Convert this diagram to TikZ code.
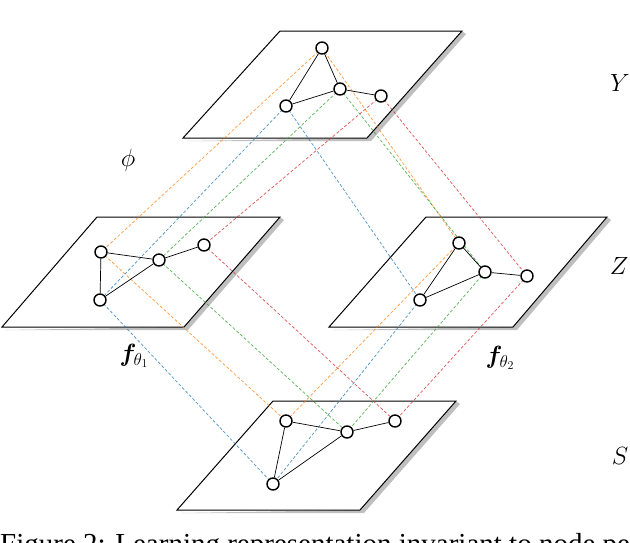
\documentclass[tikz,border=0pt]{standalone}
\usepackage{fontspec}
\usepackage{bm}
\newfontfamily\capfont{Liberation Serif}
\definecolor{corange}{HTML}{FF7F0E}
\definecolor{cblue}{HTML}{1F77B4}
\definecolor{cgreen}{HTML}{2CA02C}
\definecolor{cred}{HTML}{D62728}
\begin{document}
\begin{tikzpicture}[x=1pt,y=-1pt,
  planeshape/.style={fill=white, draw=black, line width=1pt, line join=miter},
  planeshadow/.style={fill=black!25, draw=none},
  gnode/.style={circle, draw=black, line width=1.4pt, fill=white, minimum size=12pt, inner sep=0pt},
  gedge/.style={line width=0.7pt},
  corr/.style={dash pattern=on 3pt off 2pt, line width=0.75pt, opacity=0.75},
  lbl/.style={font=\fontsize{24}{28}\selectfont, inner sep=0pt}]
\useasboundingbox (0,0) rectangle (630,542);
\begin{scope}
\clip (0,0) rectangle (630,542);
% top plane Y
\fill[planeshadow] (187,141) -- (371,141) -- (466,34) -- (462,31) -- (367,138) -- cycle;
\draw[planeshape] (183,138) -- (367,138) -- (462,31) -- (280,31) -- cycle;
% left plane Z
\fill[planeshadow] (5,330) -- (188,330) -- (284,220) -- (280,217) -- (184,327) -- cycle;
\draw[planeshape] (2,327) -- (184,327) -- (280,217) -- (97,217) -- cycle;
% right plane Z
\fill[planeshadow] (333,330) -- (517,330) -- (611,220) -- (607,217) -- (513,327) -- cycle;
\draw[planeshape] (329,327) -- (513,327) -- (607,217) -- (426,217) -- cycle;
% bottom plane S
\fill[planeshadow] (181,513) -- (364,513) -- (460,404) -- (456,401) -- (360,510) -- cycle;
\draw[planeshape] (177,510) -- (360,510) -- (456,401) -- (273,401) -- cycle;

% node positions
\coordinate (yA) at (322,48);
\coordinate (yM) at (340,89);
\coordinate (yR) at (381,96);
\coordinate (yL) at (286,106);
\coordinate (lA) at (101,252);
\coordinate (lM) at (159,260);
\coordinate (lR) at (204,245);
\coordinate (lL) at (100,300);
\coordinate (rA) at (459,243);
\coordinate (rM) at (485,272);
\coordinate (rR) at (527,276);
\coordinate (rL) at (420,300);
\coordinate (sA) at (286,421);
\coordinate (sM) at (347,432);
\coordinate (sR) at (395,421);
\coordinate (sL) at (273,484);

% correspondence lines
\foreach \p/\q in {yA/lA, yA/rA, lA/sA, rA/sA}{\draw[corr, corange] (\p) -- (\q);}
\foreach \p/\q in {yL/lL, yL/rL, lL/sL, rL/sL}{\draw[corr, cblue] (\p) -- (\q);}
\foreach \p/\q in {yM/lM, yM/rM, lM/sM, rM/sM}{\draw[corr, cgreen] (\p) -- (\q);}
\foreach \p/\q in {yR/lR, yR/rR, lR/sR, rR/sR}{\draw[corr, cred] (\p) -- (\q);}

% graph nodes
\foreach \n in {yA,yM,yR,yL,lA,lM,lR,lL,rA,rM,rR,rL,sA,sM,sR,sL}{\node[gnode] (n\n) at (\n) {};}

% graph edges
\foreach \g in {y,l,r,s}{
  \draw[gedge] (n\g A) -- (n\g M);
  \draw[gedge] (n\g A) -- (n\g L);
  \draw[gedge] (n\g L) -- (n\g M);
  \draw[gedge] (n\g M) -- (n\g R);
}

% labels
\node[lbl] (labY) at (620,83) {$Y$};
\node[lbl] (labZ) at (619,266) {$Z$};
\node[lbl] (labS) at (620,456) {$S$};
\node[lbl] (labphi) at (128,160) {$\phi$};
\node[lbl] (labf1) at (134,356) {$\bm{f}_{\theta_1}$};
\node[lbl] (labf2) at (500,358) {$\bm{f}_{\theta_2}$};

% caption (cut off by the border, as in the reference)
\node[anchor=base west, inner sep=0pt] (cap) at (0,553) {\capfont\fontsize{29}{32}\selectfont Figure 2: Learning representation invariant to node permutation};
\end{scope}
\end{tikzpicture}
\end{document}
